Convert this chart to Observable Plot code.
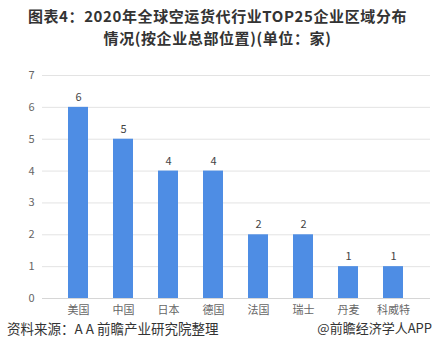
<!DOCTYPE html>
<html><head><meta charset="utf-8">
<script src="https://cdn.jsdelivr.net/npm/d3@7"></script>
<script src="https://cdn.jsdelivr.net/npm/@observablehq/plot@0.6"></script>
<style>
body{margin:0;background:#fff;font-family:"Noto Sans CJK SC","Noto Sans",sans-serif;}
#wrap{position:relative;width:435px;height:362px;overflow:hidden;}
.title{position:absolute;left:0;width:435px;text-align:center;font-weight:bold;font-size:15px;line-height:22px;color:#333;letter-spacing:0.6px;white-space:nowrap;}
#t1{top:5px;}
#t2{top:27px;}
#chart{position:absolute;left:0;top:50px;}
#src{position:absolute;left:7px;top:320px;font-size:13.5px;line-height:16px;color:#333;}
#app{position:absolute;right:3px;top:320px;font-size:13px;line-height:16px;color:#333;}
</style></head>
<body><div id="wrap">
<div class="title" id="t1">图表4：2020年全球空运货代行业TOP25企业区域分布</div>
<div class="title" id="t2">情况(按企业总部位置)(单位：家)</div>
<div id="chart"></div>
<div id="src">资料来源：A A 前瞻产业研究院整理</div>
<div id="app">@前瞻经济学人APP</div>
</div>
<script>
const countries = ["美国","中国","日本","德国","法国","瑞士","丹麦","科威特"];
const counts = [6,5,4,4,2,2,1,1];
const yTicks = [0,1,2,3,4,5,6,7];

const data = countries.map((c,i)=>({country:c, value:counts[i]}));
const plot = Plot.plot({
  width:435, height:268,
  marginLeft:42, marginRight:5, marginTop:25, marginBottom:20,
  style:{fontFamily:'"Noto Sans CJK SC","Noto Sans",sans-serif', fontSize:"11px", color:"#666", background:"#fff"},
  x:{domain:countries, padding:0.55, label:null},
  y:{domain:[0,7], label:null},
  marks:[
    Plot.gridY(yTicks.slice(1), {stroke:"#e3e3e3", strokeOpacity:1}),
    Plot.axisY(yTicks, {tickSize:0, tickPadding:8, fill:"#666", label:null}),
    Plot.barY(data, {x:"country", y:"value", fill:"#4E8DE4"}),
    Plot.text(data, {x:"country", y:"value", text:d=>String(d.value), dy:-10, fill:"#444", fontSize:11}),
    Plot.ruleY([0], {stroke:"#d6d6d6"}),
    Plot.axisX({tickSize:0, tickPadding:8, fill:"#666", label:null})
  ]
});
document.getElementById("chart").appendChild(plot);
</script>
</body></html>
